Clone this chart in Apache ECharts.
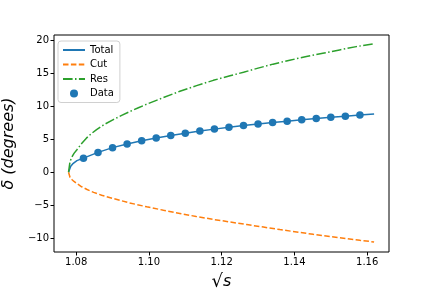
<!DOCTYPE html>
<html>
<head>
<meta charset="utf-8">
<script src="https://cdn.jsdelivr.net/npm/echarts@6/dist/echarts.min.js"></script>
<style>html,body{margin:0;padding:0;background:#fff}#c{width:432px;height:288px}</style>
</head>
<body>
<div id="c"></div>
<script>
// Data
const totalX = [1.0779, 1.0785, 1.0792, 1.0802, 1.082, 1.086, 1.090, 1.094, 1.098, 1.102, 1.106, 1.110, 1.114, 1.118, 1.122, 1.126, 1.130, 1.134, 1.138, 1.142, 1.146, 1.150, 1.154, 1.158, 1.1619];
const totalY = [0, 0.9, 1.35, 1.75, 2.13, 3.0, 3.72, 4.28, 4.75, 5.17, 5.55, 5.9, 6.22, 6.52, 6.8, 7.06, 7.3, 7.52, 7.72, 7.92, 8.11, 8.3, 8.47, 8.64, 8.8];
const cutX = [1.0779, 1.0783, 1.0788, 1.0794, 1.0802, 1.0815, 1.0830, 1.0848, 1.0870, 1.0902, 1.0945, 1.0994, 1.1040, 1.1085, 1.1130, 1.1177, 1.1223, 1.1269, 1.1315, 1.1360, 1.1406, 1.1452, 1.1498, 1.1543, 1.1580, 1.1619];
const cutY = [0, -0.75, -1.1, -1.4, -1.72, -2.2, -2.62, -3.05, -3.48, -3.98, -4.62, -5.23, -5.75, -6.23, -6.7, -7.14, -7.53, -7.92, -8.3, -8.68, -9.04, -9.4, -9.73, -10.05, -10.3, -10.55];
const resX = [1.0779, 1.0783, 1.0788, 1.0794, 1.0802, 1.0815, 1.0828, 1.0842, 1.0856, 1.0878, 1.0902, 1.0925, 1.0948, 1.0971, 1.0994, 1.1017, 1.1040, 1.1085, 1.1131, 1.1177, 1.1223, 1.1260, 1.1300, 1.1341, 1.1387, 1.1433, 1.1478, 1.1524, 1.1570, 1.1619];
const resY = [0, 1.6, 2.3, 2.85, 3.4, 4.35, 5.15, 5.85, 6.45, 7.25, 7.95, 8.6, 9.2, 9.75, 10.3, 10.8, 11.3, 12.25, 13.1, 13.9, 14.6, 15.12, 15.75, 16.35, 16.95, 17.5, 18.0, 18.5, 19.0, 19.45];
const dataX = [1.082, 1.086, 1.090, 1.094, 1.098, 1.102, 1.106, 1.110, 1.114, 1.118, 1.122, 1.126, 1.130, 1.134, 1.138, 1.142, 1.146, 1.150, 1.154, 1.158];
const dataY = [2.13, 3.0, 3.72, 4.28, 4.75, 5.17, 5.55, 5.9, 6.22, 6.52, 6.8, 7.06, 7.3, 7.52, 7.72, 7.92, 8.11, 8.3, 8.47, 8.64];
const xTicks = [1.08, 1.10, 1.12, 1.14, 1.16];
const yTicks = [-10, -5, 0, 5, 10, 15, 20];

const zip = (a, b) => a.map((v, i) => [v, b[i]]);
const font = 'DejaVu Sans';
const chart = echarts.init(document.getElementById('c'), null, {renderer: 'canvas'});
chart.setOption({
  animation: false,
  backgroundColor: '#fff',
  grid: {left: 54, right: 43, top: 35, bottom: 36, show: true, borderColor: '#000', borderWidth: 1,
    backgroundColor: 'transparent', containLabel: false, outerBoundsMode: 'none'},
  xAxis: {
    type: 'value', min: 1.0739, max: 1.166,
    axisLine: {show: false, onZero: false},
    splitLine: {show: false},
    axisTick: {show: true, inside: false, length: 3.5, lineStyle: {color: '#000', width: 1}, customValues: xTicks},
    axisLabel: {show: true, margin: 5, color: '#000', fontFamily: font, fontSize: 10, customValues: xTicks,
      formatter: v => v.toFixed(2)},
    name: '{r|√}{s|s}', nameLocation: 'middle', nameGap: 21,
    nameTextStyle: {rich: {r: {fontFamily: font, fontSize: 18, color: '#000'}, s: {fontFamily: font, fontStyle: 'italic', fontSize: 16, color: '#000'}}}
  },
  yAxis: {
    type: 'value', min: -12.07, max: 20.76,
    axisLine: {show: false, onZero: false},
    splitLine: {show: false},
    axisTick: {show: true, inside: false, length: 3.5, lineStyle: {color: '#000', width: 1}, customValues: yTicks},
    axisLabel: {show: true, margin: 5, color: '#000', fontFamily: font, fontSize: 10, customValues: yTicks,
      formatter: v => String(Math.round(v)).replace('-', '\u2212')},
    name: 'δ (degrees)', nameLocation: 'middle', nameGap: 29, nameRotate: 90,
    nameTextStyle: {fontFamily: font, fontStyle: 'italic', fontSize: 16, color: '#000'}
  },
  legend: {
    orient: 'vertical', left: 58, top: 41,
    itemWidth: 22, itemHeight: 8, itemGap: 4.5,
    padding: [4, 6, 4, 4],
    backgroundColor: '#fff', borderColor: '#d0d0d0', borderWidth: 1, borderRadius: 3,
    textStyle: {fontFamily: font, fontSize: 10, color: '#000'},
    data: [
      {name: 'Total', itemStyle: {opacity: 0}},
      {name: 'Cut', itemStyle: {opacity: 0}},
      {name: 'Res', itemStyle: {opacity: 0}},
      {name: 'Data'}
    ]
  },
  series: [
    {name: 'Total', type: 'line', data: zip(totalX, totalY), showSymbol: false, symbol: 'none',
      lineStyle: {color: '#1f77b4', width: 1.5}, itemStyle: {color: '#1f77b4'}, z: 2},
    {name: 'Cut', type: 'line', data: zip(cutX, cutY), showSymbol: false, symbol: 'none',
      lineStyle: {color: '#ff7f0e', width: 1.5, type: [5.5, 2.4]}, itemStyle: {color: '#ff7f0e'}, z: 3},
    {name: 'Res', type: 'line', data: zip(resX, resY), showSymbol: false, symbol: 'none',
      lineStyle: {color: '#2ca02c', width: 1.5, type: [9.6, 2.4, 1.5, 2.4]}, itemStyle: {color: '#2ca02c'}, z: 4},
    {name: 'Data', type: 'scatter', data: zip(dataX, dataY), symbol: 'circle', symbolSize: 7.5,
      itemStyle: {color: '#1f77b4', opacity: 1}, z: 5}
  ]
});
</script>
</body>
</html>
